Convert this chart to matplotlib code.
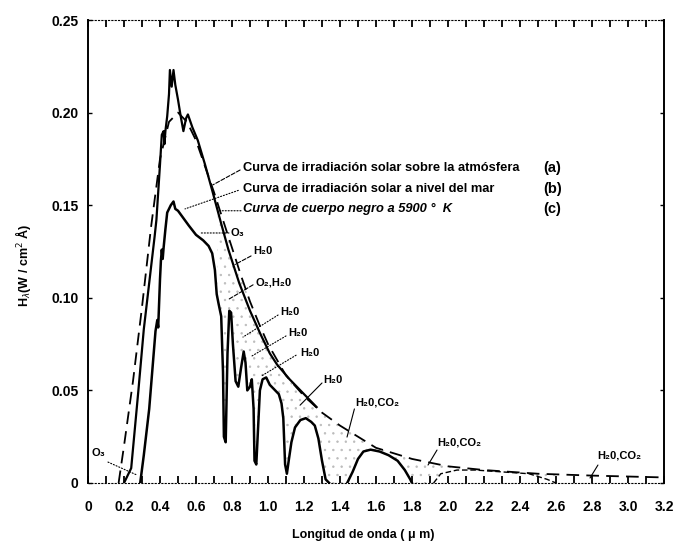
import numpy as np
import matplotlib
matplotlib.use("Agg")
import matplotlib.pyplot as plt

plt.rcParams['font.family'] = ['Liberation Sans', 'DejaVu Sans']
plt.rcParams['hatch.linewidth'] = 0.5

# (a) irradiación solar sobre la atmósfera
a_x = [0.20, 0.24, 0.28, 0.31, 0.34, 0.37, 0.38, 0.40, 0.41, 0.42, 0.425, 0.43, 0.44, 0.45,
       0.455, 0.465, 0.475, 0.485, 0.50, 0.515, 0.53, 0.545, 0.555, 0.58, 0.61, 0.65, 0.69,
       0.74, 0.78, 0.84, 0.90, 0.96, 1.01, 1.05, 1.12, 1.22, 1.27]
a_y = [0.000, 0.008, 0.050, 0.083, 0.108, 0.133, 0.142, 0.172, 0.188, 0.190, 0.183, 0.190,
       0.198, 0.210, 0.223, 0.214, 0.223, 0.215, 0.207, 0.198, 0.190, 0.197, 0.199, 0.192,
       0.185, 0.172, 0.158, 0.140, 0.126, 0.108, 0.093, 0.080, 0.070, 0.064, 0.056, 0.046,
       0.041]

# (b) irradiación solar a nivel del mar
b1_x = [0.29, 0.31, 0.34, 0.365, 0.375, 0.385, 0.39, 0.395, 0.40, 0.405, 0.41, 0.415, 0.42,
        0.43, 0.44, 0.46, 0.475, 0.485, 0.50, 0.53, 0.56, 0.60, 0.64, 0.67, 0.69, 0.705,
        0.715, 0.725, 0.74, 0.75, 0.755, 0.765, 0.775, 0.785, 0.795, 0.805, 0.82, 0.835,
        0.85, 0.865, 0.875, 0.885, 0.90, 0.91, 0.92, 0.925, 0.935, 0.945, 0.955, 0.97,
        0.99, 1.01, 1.04, 1.06, 1.075, 1.085, 1.095, 1.105, 1.115, 1.13, 1.15, 1.18, 1.21,
        1.24, 1.26, 1.28, 1.30, 1.32, 1.34]
b1_y = [0.000, 0.015, 0.040, 0.070, 0.082, 0.088, 0.084, 0.097, 0.110, 0.120, 0.126, 0.121,
        0.127, 0.137, 0.146, 0.150, 0.152, 0.148, 0.147, 0.143, 0.139, 0.134, 0.131, 0.128,
        0.124, 0.115, 0.102, 0.097, 0.090, 0.060, 0.025, 0.022, 0.070, 0.093, 0.092, 0.075,
        0.055, 0.052, 0.062, 0.071, 0.065, 0.050, 0.052, 0.056, 0.040, 0.012, 0.010, 0.030,
        0.050, 0.056, 0.057, 0.053, 0.050, 0.048, 0.043, 0.035, 0.010, 0.005, 0.012, 0.022,
        0.030, 0.034, 0.035, 0.033, 0.031, 0.024, 0.012, 0.002, 0.000]
b2_x = [1.44, 1.47, 1.50, 1.53, 1.57, 1.62, 1.67, 1.72, 1.76, 1.79, 1.80]
b2_y = [0.000, 0.006, 0.013, 0.017, 0.018, 0.017, 0.015, 0.012, 0.007, 0.002, 0.000]
b3_x = [1.92, 1.96, 2.05, 2.15, 2.30, 2.45, 2.55, 2.60]
b3_y = [0.000, 0.005, 0.007, 0.007, 0.006, 0.005, 0.002, 0.000]

# (c) cuerpo negro a 5900 K
c_x = [0.17, 0.20, 0.25, 0.30, 0.35, 0.40, 0.45, 0.50, 0.55, 0.60, 0.65, 0.70, 0.75, 0.80,
       0.85, 0.90, 0.95, 1.00, 1.10, 1.20, 1.30, 1.40, 1.50, 1.60, 1.80, 2.00, 2.20, 2.50,
       2.80, 3.20]
c_y = [0.000, 0.020, 0.055, 0.095, 0.138, 0.175, 0.195, 0.200, 0.195, 0.185, 0.171, 0.157,
       0.142, 0.127, 0.112, 0.098, 0.086, 0.075, 0.058, 0.047, 0.038, 0.031, 0.025, 0.019,
       0.013, 0.009, 0.007, 0.005, 0.004, 0.003]

x_ticks = [0, 0.2, 0.4, 0.6, 0.8, 1.0, 1.2, 1.4, 1.6, 1.8, 2.0, 2.2, 2.4, 2.6, 2.8, 3.0, 3.2]
x_tick_labels = ['0', '0.2', '0.4', '0.6', '0.8', '1.0', '1.2', '1.4', '1.6', '1.8', '2.0',
                 '2.2', '2.4', '2.6', '2.8', '3.0', '3.2']
y_ticks = [0, 0.05, 0.10, 0.15, 0.20, 0.25]
y_tick_labels = ['0', '0.05', '0.10', '0.15', '0.20', '0.25']

legend_texts = ['Curva de irradiación solar sobre la atmósfera',
                'Curva de irradiación solar a nivel del mar',
                'Curva de cuerpo negro a 5900 °  K']
legend_tags = ['(a)', '(b)', '(c)']

fig = plt.figure(figsize=(6.73, 5.52), dpi=100)
ax = fig.add_axes([88/673, 69/552, 576/673, 463/552])

# stippled absorption region
gx = np.linspace(0.72, 2.6, 600)
bx_all = np.concatenate([b1_x, b2_x, b3_x])
by_all = np.concatenate([b1_y, b2_y, b3_y])
upper = np.interp(gx, c_x, c_y)
lower = np.interp(gx, bx_all, by_all)
ax.fill_between(gx, lower, upper, where=upper > lower, facecolor='none',
                edgecolor='#bbbbbb', hatch='..', linewidth=0)

ax.plot(c_x, c_y, color='black', lw=1.3, ls=(0, (7, 4)))
ax.plot(a_x, a_y, color='black', lw=1.6)
ax.plot(b1_x, b1_y, color='black', lw=1.8)
ax.plot(b2_x, b2_y, color='black', lw=1.8)
ax.plot(b3_x, b3_y, color='black', lw=1.0, ls=(0, (4, 2)))

ax.set_xlim(0, 3.2)
ax.set_ylim(0, 0.25)
ax.set_xticks(x_ticks)
ax.set_xticklabels(x_tick_labels, fontsize=10, fontweight='bold')
ax.set_yticks(y_ticks)
ax.set_yticklabels(y_tick_labels, fontsize=10, fontweight='bold')
ax.tick_params(axis='x', length=0, pad=12)
ax.tick_params(axis='y', length=0, pad=7)

# inward tick marks drawn explicitly (every 0.1 on top and bottom, every 0.05 on sides)
fine_x = np.arange(0, 3.21, 0.1)
tx = ax.get_xaxis_transform()
ty = ax.get_yaxis_transform()
hx = 7 / 463
hy = 4 / 576
ax.vlines(fine_x, 0, hx, transform=tx, colors='black', lw=1.3, clip_on=False, zorder=5)
ax.vlines(fine_x, 1 - hx, 1, transform=tx, colors='black', lw=1.3, clip_on=False, zorder=5)
ax.hlines(y_ticks, 0, hy, transform=ty, colors='black', lw=1.0, clip_on=False, zorder=5)
ax.hlines(y_ticks, 1 - hy, 1, transform=ty, colors='black', lw=1.0, clip_on=False, zorder=5)

for s in ['top', 'bottom']:
    ax.spines[s].set_linestyle((0, (1, 2)))
    ax.spines[s].set_linewidth(0.8)
for s in ['left', 'right']:
    ax.spines[s].set_linewidth(1.4)

ax.set_xlabel('Longitud de onda ( μ m)', fontsize=9, fontweight='bold')
ax.xaxis.set_label_coords(0.477, -0.10)
ax.set_ylabel(r'H$_{\lambda}$(W / cm$^{2}$ Å)', fontsize=9, fontweight='bold')
ax.yaxis.set_label_coords(-0.095, 0.47)

# legend-like texts
leg_y = [0.170, 0.159, 0.148]
for i, (t, tag) in enumerate(zip(legend_texts, legend_tags)):
    ax.text(0.86, leg_y[i], t, fontsize=9.3, fontweight='bold',
            style='italic' if i == 2 else 'normal', va='center', ha='left')
    ax.text(2.53, leg_y[i], tag, fontsize=10.5, fontweight='bold', va='center', ha='left')

def pointer(xy_text, xy_target, ls):
    ax.annotate('', xy=xy_target, xytext=xy_text,
                arrowprops=dict(arrowstyle='-', color='black', lw=0.8, linestyle=ls,
                                shrinkA=0, shrinkB=0))

pointer((0.845, 0.169), (0.694, 0.161), '--')
pointer((0.835, 0.158), (0.539, 0.148), ':')
pointer((0.850, 0.147), (0.733, 0.147), ':')

labels = [
    ('O₃', (0.794, 0.135), (0.783, 0.135), (0.622, 0.135), ':'),
    ('H₂0', (0.917, 0.125), (0.906, 0.1226), (0.817, 0.118), '--'),
    ('O₂,H₂0', (0.928, 0.1085), (0.917, 0.107), (0.778, 0.099), '--'),
    ('H₂0', (1.067, 0.0923), (1.056, 0.0907), (0.861, 0.0788), ':'),
    ('H₂0', (1.111, 0.081), (1.100, 0.0794), (0.911, 0.0686), ':'),
    ('H₂0', (1.178, 0.070), (1.156, 0.069), (0.967, 0.058), ':'),
    ('H₂0', (1.306, 0.0556), (1.300, 0.054), (1.178, 0.042), '-'),
    ('H₂0,CO₂', (1.483, 0.0437), (1.480, 0.040), (1.439, 0.0248), '-'),
    ('H₂0,CO₂', (1.939, 0.022), (1.939, 0.0178), (1.889, 0.0097), '-'),
    ('H₂0,CO₂', (2.828, 0.0151), (2.833, 0.0097), (2.789, 0.0027), '-'),
    ('O₃', (0.022, 0.0162), (0.111, 0.0113), (0.272, 0.0043), ':'),
]
for txt, pos, p0, p1, ls in labels:
    ax.text(pos[0], pos[1], txt, fontsize=8, fontweight='bold', va='center', ha='left')
    pointer(p0, p1, ls)

fig.savefig('out.png', dpi=100)
